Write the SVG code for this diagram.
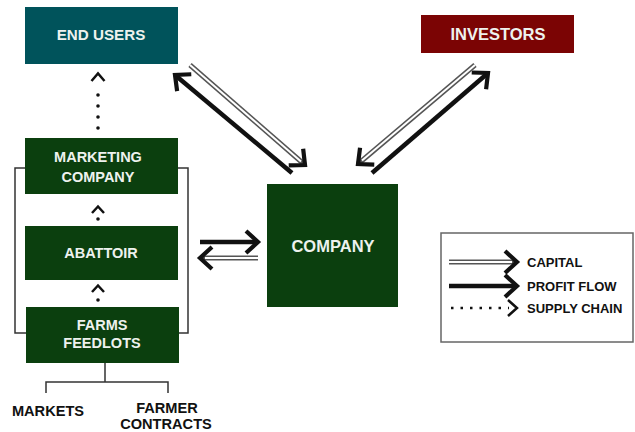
<svg xmlns="http://www.w3.org/2000/svg" width="635" height="432" viewBox="0 0 635 432">
<style>
.box{stroke:none}
.g{fill:#0b3f0e}
.lbl{font-family:"Liberation Sans",Arial,sans-serif;font-weight:bold;font-size:14.5px;fill:#eef2ee;text-anchor:middle}
.big{font-size:16.5px}
.blk{font-family:"Liberation Sans",Arial,sans-serif;font-weight:bold;font-size:14.6px;fill:#111;text-anchor:middle}
.leg{font-family:"Liberation Sans",Arial,sans-serif;font-weight:bold;font-size:13px;fill:#111}
.thin{fill:none;stroke:#333;stroke-width:1.5}
.profit{fill:none;stroke:#111;stroke-width:4.5}
.capo{fill:none;stroke:#555;stroke-width:5}
.capi{fill:none;stroke:#fff;stroke-width:2}
.sup{fill:none;stroke:#111;stroke-width:2.5}
.dot{fill:#111}
</style>
<defs>
<marker id="ah" markerUnits="userSpaceOnUse" markerWidth="30" markerHeight="30" viewBox="-15 -15 30 30" refX="0" refY="0" orient="auto" overflow="visible">
<path d="M -12 -11 L 0 0 L -12 11" fill="none" stroke="#111" stroke-width="4.2"/>
</marker>
</defs>
<rect width="635" height="432" fill="#fff"/>

<g id="end-users"><rect class="box" x="25" y="7" width="153" height="57" fill="#00535b"/><text class="lbl" x="101" y="40" style="font-size:15.2px">END USERS</text></g>
<g id="investors"><rect class="box" x="421" y="15" width="153" height="38" fill="#7b0404"/><text class="lbl big" x="498" y="39.5">INVESTORS</text></g>
<g id="marketing-company"><rect class="box g" x="25" y="138" width="153" height="56"/><text class="lbl" x="98" y="162">MARKETING</text><text class="lbl" x="98" y="182">COMPANY</text></g>
<g id="abattoir"><rect class="box g" x="25" y="226" width="153" height="54"/><text class="lbl" x="101" y="258">ABATTOIR</text></g>
<g id="farms-feedlots"><rect class="box g" x="26" y="307" width="153" height="56"/><text class="lbl" x="102" y="330">FARMS</text><text class="lbl" x="102" y="348">FEEDLOTS</text></g>
<g id="company"><rect class="box g" x="267" y="184" width="131" height="123"/><text class="lbl big" x="333" y="252">COMPANY</text></g>
<g id="markets"><text class="blk" x="48" y="416">MARKETS</text></g>
<g id="farmer-contracts"><text class="blk" x="167" y="412.5">FARMER</text><text class="blk" x="166" y="429">CONTRACTS</text></g>

<g id="connectors">
<path class="thin" d="M25 168 H15 V333 H26 M178 168 H188 V333 H179"/>
<path class="thin" d="M105 363 V382 M46 393 V382 H168 V393"/>
<path class="sup" d="M91.5 81 L98 73.5 L104.5 81"/>
<circle class="dot" cx="98" cy="95" r="1.8"/><circle class="dot" cx="98" cy="106" r="1.8"/><circle class="dot" cx="98" cy="117" r="1.8"/><circle class="dot" cx="98" cy="128" r="1.8"/>
<path class="sup" d="M92 213 L98 206.5 L104 213"/><circle class="dot" cx="98" cy="219" r="1.8"/>
<path class="sup" d="M92 292 L98 285.5 L104 292"/><circle class="dot" cx="98" cy="300" r="1.8"/>
<path class="profit" d="M292 173 L175 75" marker-end="url(#ah)"/>
<path class="capo" d="M190 65 L305 165" marker-end="url(#ah)"/>
<path class="capi" d="M190 65 L301 161.5"/>
<path class="profit" d="M372 173 L488 73" marker-end="url(#ah)"/>
<path class="capo" d="M475 65 L358 164" marker-end="url(#ah)"/>
<path class="capi" d="M475 65 L362 160.6"/>
<path class="profit" d="M200 242 L258 242" marker-end="url(#ah)"/>
<path class="capo" d="M258 258 L200 258" marker-end="url(#ah)"/>
<path class="capi" d="M258 258 L205 258"/>
</g>

<g id="legend">
<rect x="441" y="233" width="192" height="109" fill="none" stroke="#666" stroke-width="1.5"/>
<path class="capo" d="M449 262 L517 262" marker-end="url(#ah)"/>
<path class="capi" d="M449 262 L512 262"/>
<path class="profit" d="M449 286 L517 286" marker-end="url(#ah)"/>
<path d="M451 308 L509 308" fill="none" stroke="#111" stroke-width="2.5" stroke-dasharray="2.5 7"/>
<path class="sup" d="M508 300 L517 308 L508 316" stroke-width="3.5"/>
<text class="leg" x="527" y="267">CAPITAL</text>
<text class="leg" x="527" y="291">PROFIT FLOW</text>
<text class="leg" x="527" y="313">SUPPLY CHAIN</text>
</g>
</svg>
